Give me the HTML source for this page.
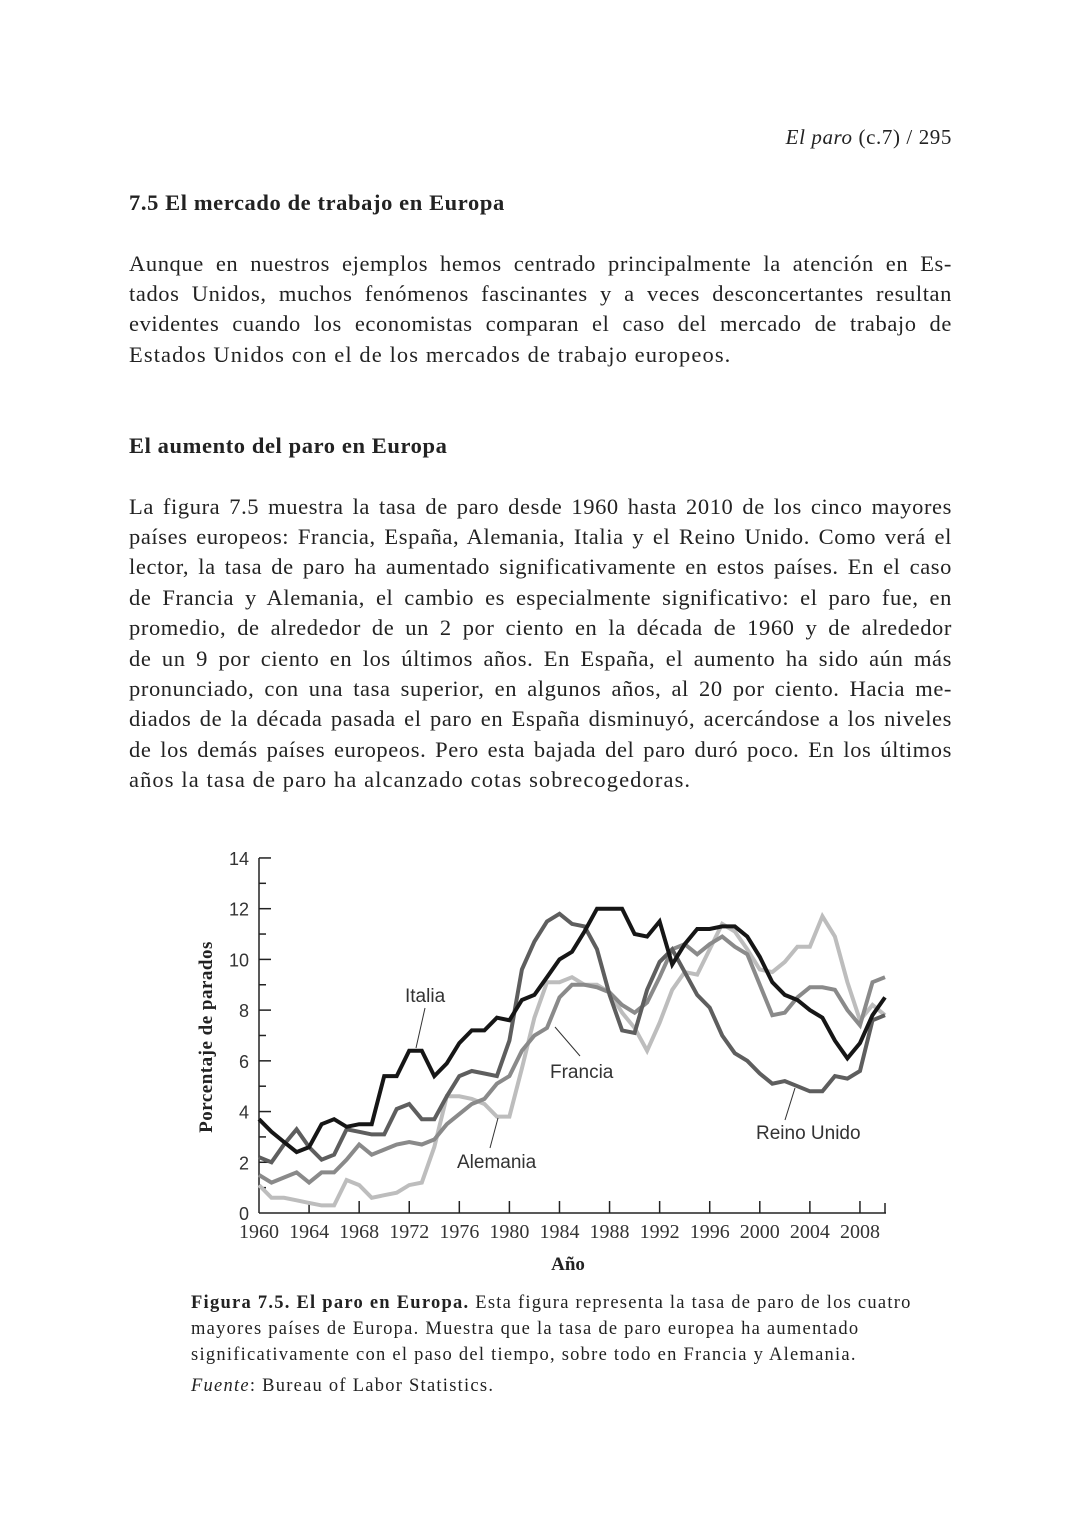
<!DOCTYPE html>
<html><head><meta charset="utf-8">
<style>
body{margin:0;background:#fff;}
#page{position:relative;width:1080px;height:1523px;background:#fff;font-family:"Liberation Serif",serif;color:#222;}
.l{position:absolute;left:129px;width:823px;font-size:22.5px;letter-spacing:1.1px;line-height:30px;white-space:nowrap;}
.j{text-align:justify;text-align-last:justify;letter-spacing:0.6px;}
.h{letter-spacing:0.6px;}
.cap{position:absolute;left:191px;font-size:18.5px;letter-spacing:1.25px;white-space:nowrap;}
</style></head><body>
<div id="page">
<div style="position:absolute;right:128px;top:125px;font-size:21px;letter-spacing:0.6px;"><i>El paro</i> (c.7) / 295</div>
<div class="l h" style="top:188px;font-weight:bold;">7.5 El mercado de trabajo en Europa</div>
<div>
<div class="l j" style="top:249px">Aunque en nuestros ejemplos hemos centrado principalmente la atención en Es-</div>
<div class="l j" style="top:279px">tados Unidos, muchos fenómenos fascinantes y a veces desconcertantes resultan</div>
<div class="l j" style="top:309px">evidentes cuando los economistas comparan el caso del mercado de trabajo de</div>
<div class="l" style="top:340px">Estados Unidos con el de los mercados de trabajo europeos.</div>
</div>
<div class="l h" style="top:431px;font-weight:bold;">El aumento del paro en Europa</div>
<div>
<div class="l j" style="top:492px">La figura 7.5 muestra la tasa de paro desde 1960 hasta 2010 de los cinco mayores</div>
<div class="l j" style="top:522px">países europeos: Francia, España, Alemania, Italia y el Reino Unido. Como verá el</div>
<div class="l j" style="top:552px">lector, la tasa de paro ha aumentado significativamente en estos países. En el caso</div>
<div class="l j" style="top:583px">de Francia y Alemania, el cambio es especialmente significativo: el paro fue, en</div>
<div class="l j" style="top:613px">promedio, de alrededor de un 2 por ciento en la década de 1960 y de alrededor</div>
<div class="l j" style="top:644px">de un 9 por ciento en los últimos años. En España, el aumento ha sido aún más</div>
<div class="l j" style="top:674px">pronunciado, con una tasa superior, en algunos años, al 20 por ciento. Hacia me-</div>
<div class="l j" style="top:704px">diados de la década pasada el paro en España disminuyó, acercándose a los niveles</div>
<div class="l j" style="top:735px">de los demás países europeos. Pero esta bajada del paro duró poco. En los últimos</div>
<div class="l" style="top:765px">años la tasa de paro ha alcanzado cotas sobrecogedoras.</div>
</div>
<svg id="chart" width="1080" height="1523" style="position:absolute;left:0;top:0;"></svg>
<div>
<div class="cap" style="top:1293px"><b>Figura 7.5. El paro en Europa.</b> Esta figura representa la tasa de paro de los cuatro</div>
<div class="cap" style="top:1319px">mayores países de Europa. Muestra que la tasa de paro europea ha aumentado</div>
<div class="cap" style="top:1345px">significativamente con el paso del tiempo, sobre todo en Francia y Alemania.</div>
<div class="cap" style="top:1376px"><i>Fuente</i>: Bureau of Labor Statistics.</div>
</div>
</div>
<script>
const startYear = 1960;
const italia = [3.7,3.2,2.8,2.4,2.6,3.5,3.7,3.4,3.5,3.5,5.4,5.4,6.4,6.4,5.4,5.9,6.7,7.2,7.2,7.7,7.6,8.4,8.6,9.3,10.0,10.3,11.1,12.0,12.0,12.0,11.0,10.9,11.5,9.8,10.6,11.2,11.2,11.3,11.3,10.9,10.1,9.1,8.6,8.4,8.0,7.7,6.8,6.1,6.7,7.8,8.5];
const reinoUnido = [2.2,2.0,2.7,3.3,2.6,2.1,2.3,3.3,3.2,3.1,3.1,4.1,4.3,3.7,3.7,4.6,5.4,5.6,5.5,5.4,6.8,9.6,10.7,11.5,11.8,11.4,11.3,10.4,8.6,7.2,7.1,8.8,9.9,10.4,9.5,8.6,8.1,7.0,6.3,6.0,5.5,5.1,5.2,5.0,4.8,4.8,5.4,5.3,5.6,7.6,7.8];
const francia = [1.5,1.2,1.4,1.6,1.2,1.6,1.6,2.1,2.7,2.3,2.5,2.7,2.8,2.7,2.9,3.5,3.9,4.3,4.5,5.1,5.4,6.4,7.0,7.3,8.5,9.0,9.0,8.9,8.7,8.2,7.9,8.3,9.3,10.4,10.6,10.2,10.6,10.9,10.5,10.2,9.0,7.8,7.9,8.5,8.9,8.9,8.8,8.0,7.4,9.1,9.3];
const alemania = [1.1,0.6,0.6,0.5,0.4,0.3,0.3,1.3,1.1,0.6,0.7,0.8,1.1,1.2,2.6,4.6,4.6,4.5,4.3,3.8,3.8,5.7,7.7,9.1,9.1,9.3,9.0,9.0,8.7,7.9,7.3,6.4,7.5,8.8,9.5,9.4,10.4,11.4,11.1,10.4,9.6,9.5,9.9,10.5,10.5,11.7,10.9,9.1,7.6,8.2,7.8];
const yTicks = [0,2,4,6,8,10,12,14];
const xTicks = [1960,1964,1968,1972,1976,1980,1984,1988,1992,1996,2000,2004,2008];

const svg = document.getElementById('chart');
const NS = 'http://www.w3.org/2000/svg';
const X = yr => 259 + (yr - 1960) * 12.52;
const Y = v => 1213 - v * 25.36;
function mk(tag, attrs, parent){const e=document.createElementNS(NS,tag);for(const k in attrs)e.setAttribute(k,attrs[k]);(parent||svg).appendChild(e);return e;}

const axes = mk('g',{stroke:'#222','stroke-width':1.5});


mk('line',{x1:259,y1:Y(14),x2:259,y2:1213},axes);
mk('line',{x1:259,y1:1213,x2:886,y2:1213},axes);
for(let v=1; v<=14; v++){ mk('line',{x1:259,y1:Y(v),x2:v%2==0?271:266,y2:Y(v)},axes); }
xTicks.forEach(t=>{ if(t>1960) mk('line',{x1:X(t),y1:1213,x2:X(t),y2:1201},axes); });
mk('line',{x1:885,y1:1213,x2:885,y2:1203},axes);

yTicks.forEach(t=>{
  const tx = mk('text',{x:249,y:Y(t)+7,'text-anchor':'end','font-family':'Liberation Sans, sans-serif','font-size':18,fill:'#333'});
  
  
  tx.textContent = t;
});
xTicks.forEach(t=>{
  const tx = mk('text',{x:X(t),y:1238,'text-anchor':'middle','font-family':'Liberation Serif, serif','font-size':20,fill:'#333'});
  
  
  tx.textContent = t;
});
const yt = mk('text',{x:0,y:0,transform:'translate(212,1037) rotate(-90)','text-anchor':'middle','font-family':'Liberation Serif, serif','font-size':19,'font-weight':'bold','letter-spacing':'0.5',fill:'#222'});


yt.textContent = 'Porcentaje de parados';
const xt = mk('text',{x:568,y:1270,'text-anchor':'middle','font-family':'Liberation Serif, serif','font-size':19,'font-weight':'bold',fill:'#222'});


xt.textContent = 'Año';

function series(arr, color, name){
  const d = arr.map((v,i)=>(i?'L':'M')+X(startYear+i).toFixed(1)+','+Y(v).toFixed(1)).join(' ');
  const p = mk('path',{d:d,fill:'none',stroke:color,'stroke-width':4,'stroke-linejoin':'miter'});
  
  
}
series(alemania,'#bdbdbd','alemania-line');
series(francia,'#8a8a8a','francia-line');
series(reinoUnido,'#5e5e5e','reino-unido-line');
series(italia,'#161616','italia-line');

function label(txt,x,y,lx1,ly1,lx2,ly2,name){
  mk('line',{x1:lx1,y1:ly1,x2:lx2,y2:ly2,stroke:'#333','stroke-width':1});
  const t = mk('text',{x:x,y:y,'font-family':'Liberation Sans, sans-serif','font-size':19,fill:'#333'});
  
  
  t.textContent = txt;
}
label('Italia',405,1002,425,1008,416,1048,'italia-label');
label('Francia',550,1078,555,1027,580,1056,'francia-label');
label('Alemania',457,1168,498,1118,490,1148,'alemania-label');
label('Reino Unido',756,1139,795,1088,785,1120,'reino-unido-label');
</script>
</body></html>
